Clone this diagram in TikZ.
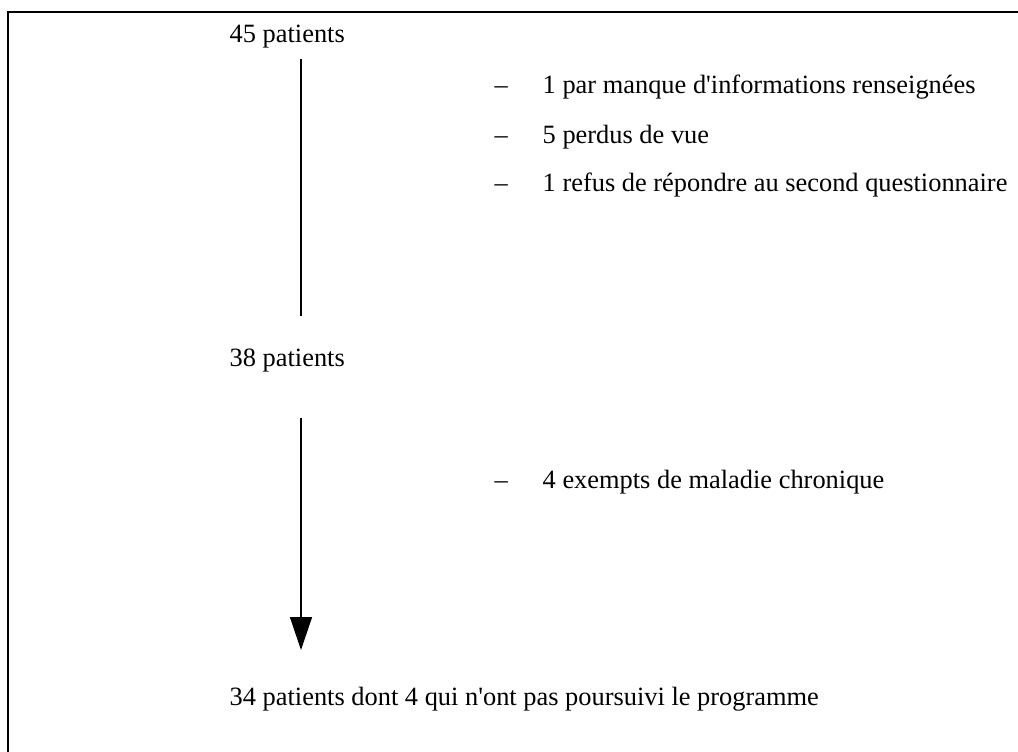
\documentclass[tikz,border=0pt]{standalone}
\usepackage{fontspec}
\setmainfont{Liberation Serif}
\usetikzlibrary{arrows.meta}

\begin{document}
\begin{tikzpicture}[x=0.5pt,y=-0.5pt,line width=0.7pt,
  lbl/.style={anchor=base west,inner sep=0pt,font=\fontsize{13.2}{16}\selectfont},
  bigtip/.style={-{Triangle[width=11pt,length=16.5pt]}}]
 \clip (0,0) rectangle (1018,751);
 \useasboundingbox (0,0) rectangle (1018,751);
 \draw (8,12) rectangle (1040,780);
 % patient counts
 \node[lbl] (p45) at (229,42) {45 patients};
 \node[lbl] (p38) at (229,366) {38 patients};
 \node[lbl] (p34) at (229,705) {34 patients dont 4 qui n\textquotesingle ont pas poursuivi le programme};
 % exclusions
 \foreach \y/\t/\n in
  {
    93/1 par manque d\textquotesingle informations renseignées/e1,
    143/5 perdus de vue/e2,
    191/1 refus de répondre au second questionnaire/e3,
    488/4 exempts de maladie chronique/e4
  }
  {
    \node[lbl] (d\n) at (494,\y) {--};
    \node[lbl] (\n) at (542,\y) {\t};
  }
 \coordinate (a1) at (301,59);
 \coordinate (a2) at (301,316);
 \coordinate (b1) at (301,418);
 \coordinate (b2) at (301,650);
 \draw (a1) -- (a2);
 \draw[bigtip] (b1) -- (b2);
\end{tikzpicture}
\end{document}
